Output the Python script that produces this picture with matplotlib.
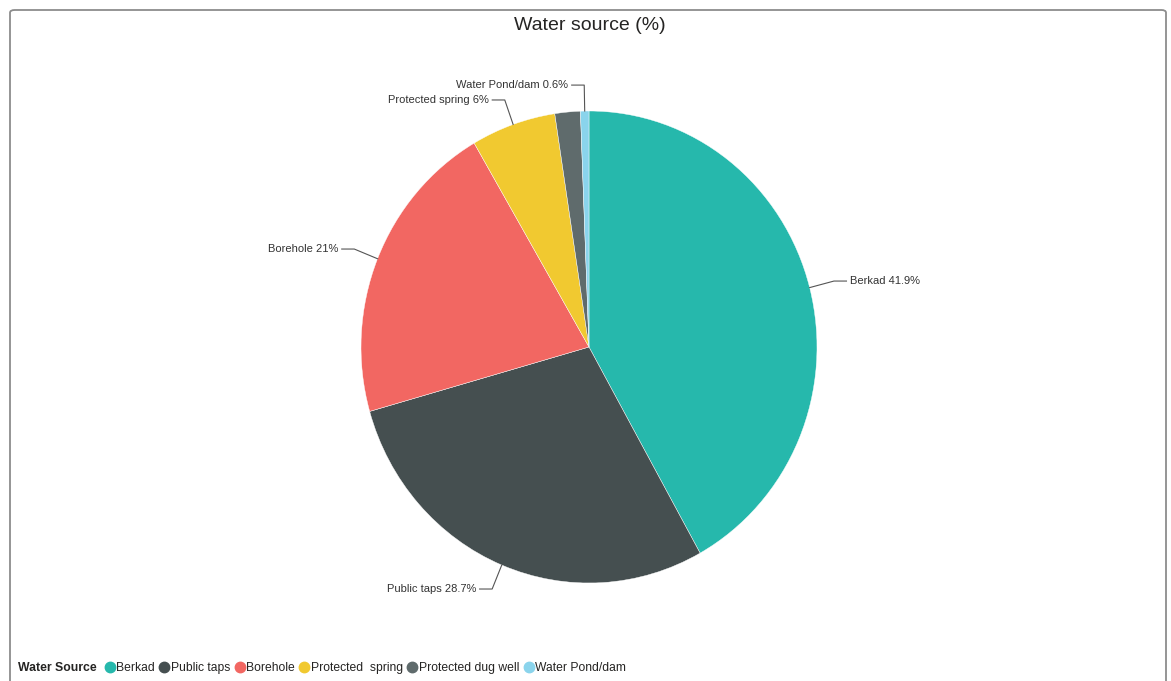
import matplotlib.pyplot as plt
import numpy as np
from matplotlib.patches import FancyBboxPatch
from matplotlib.lines import Line2D

plt.rcParams['font.family'] = ['Liberation Sans', 'DejaVu Sans']

# Data
sources = ['Berkad', 'Public taps', 'Borehole', 'Protected  spring',
           'Protected dug well', 'Water Pond/dam']
shares = [41.9, 28.7, 21.0, 6.0, 1.8, 0.6]
slice_labels = ['Berkad 41.9%', 'Public taps 28.7%', 'Borehole 21%',
                'Protected spring 6%', None, 'Water Pond/dam 0.6%']
colors = ['#26B8AC', '#454F50', '#F26762', '#F1C930', '#5F6B6C', '#8AD4EC']

W, H = 1171, 681
fig = plt.figure(figsize=(W / 100, H / 100), dpi=100)

# Rounded grey frame
frame = FancyBboxPatch((10 / W, -20 / H), 1156 / W, (H - 10 + 20) / H,
                       boxstyle='round,pad=0,rounding_size=0.004',
                       transform=fig.transFigure, facecolor='none',
                       edgecolor='#8c8c8c', linewidth=1.3, zorder=-1)
fig.patches.append(frame)

fig.text(590 / W, 1 - 25 / H, 'Water source (%)', ha='center', va='center',
         fontsize=14, color='#252423')

# Pie axes
cx, cy, rx, ry = 589, 347, 228, 236
ax = fig.add_axes([(cx - rx) / W, 1 - (cy + ry) / H, 2 * rx / W, 2 * ry / H])
wedges, _ = ax.pie(shares, colors=colors, startangle=90, counterclock=False,
                   wedgeprops=dict(edgecolor='white', linewidth=0.3))
ax.set_aspect('auto')
ax.set_xlim(-1, 1)
ax.set_ylim(-1, 1)

# Leader lines and labels
for w, lab in zip(wedges, slice_labels):
    if lab is None:
        continue
    ang = np.deg2rad((w.theta1 + w.theta2) / 2)
    x0, y0 = np.cos(ang), np.sin(ang)
    x1, y1 = 1.11 * x0, 1.11 * y0
    side = 1 if x0 > 0 else -1
    x2 = x1 + side * 0.055
    ax.plot([x0, x1, x2], [y0, y1, y1], color='#555555', lw=0.8,
            clip_on=False)
    ax.text(x2 + side * 0.015, y1, lab, ha='left' if side > 0 else 'right',
            va='center', fontsize=8, color='#333333')

# Legend
fig.text(18 / W, 1 - 668 / H, 'Water Source', ha='left', va='center',
         fontsize=8.8, fontweight='bold', color='#252423')
handles = [Line2D([], [], marker='o', linestyle='none', markersize=7.5,
                  markerfacecolor=c, markeredgecolor=c) for c in colors]
fig.legend(handles, sources, loc='center left', ncol=6,
           bbox_to_anchor=(100 / W, 1 - 668 / H), frameon=False,
           fontsize=8.7, handlelength=0.6, handletextpad=0.22,
           columnspacing=0.5, borderpad=0, labelcolor='#252423')

plt.savefig('out.png', dpi=100)
